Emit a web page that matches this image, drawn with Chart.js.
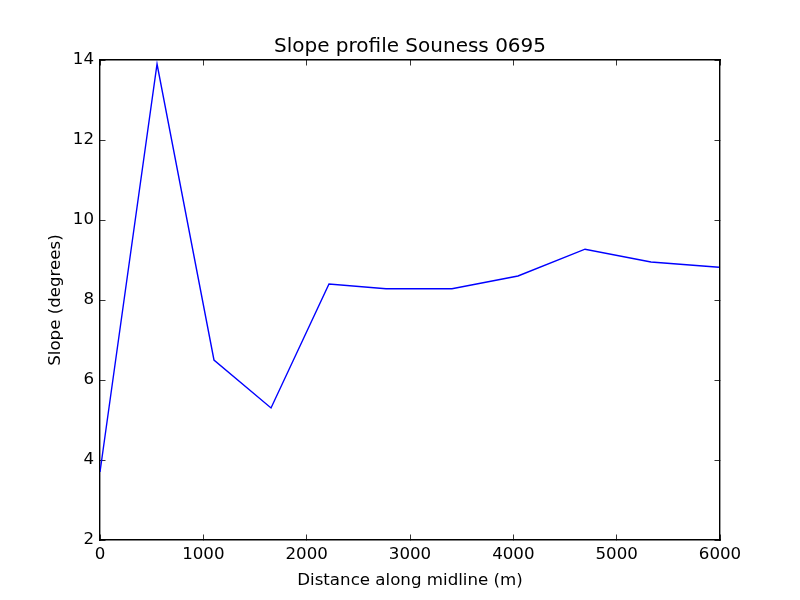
<!DOCTYPE html>
<html>
<head>
<meta charset="utf-8">
<title>Slope profile</title>
<script src="https://cdn.jsdelivr.net/npm/chart.js@4"></script>
<style>
  html, body { margin: 0; padding: 0; background: #fff; }
  canvas { display: block; }
</style>
</head>
<body>
<canvas id="myChart" width="800" height="600"></canvas>
<script>
const distances = [0, 552, 1103, 1655, 2216, 2768, 3406, 4045, 4694, 5332, 5990];
const slopes = [3.7, 13.9, 6.5, 5.3, 8.4, 8.28, 8.28, 8.6, 9.27, 8.95, 8.82];
const xTicks = [0, 1000, 2000, 3000, 4000, 5000, 6000];
const yTicks = [2, 4, 6, 8, 10, 12, 14];

const fontName = "'DejaVu Sans'";

function useTicks(values) {
  return (scale) => {
    scale.ticks = values.map((value) => ({ value }));
  };
}

function axisBase(values, min, max, position) {
  return {
    type: "linear",
    position,
    min,
    max,
    afterBuildTicks: useTicks(values),
    border: { display: true, color: "#000", width: 1.4 },
    grid: {
      drawOnChartArea: false,
      drawTicks: true,
      tickLength: -5.5,
      tickColor: "#000",
      tickWidth: 0.8,
    },
  };
}

function renderChart(ctx) {
  new Chart(ctx, {
    type: "line",
    data: {
      datasets: [
        {
          data: distances.map((x, i) => ({ x, y: slopes[i] })),
          xAxisID: "x",
          yAxisID: "y",
          borderColor: "#0000ff",
          borderWidth: 1.4,
          pointRadius: 0,
          tension: 0,
          fill: false,
        },
      ],
    },
    options: {
      responsive: false,
      animation: false,
      devicePixelRatio: 1,
      layout: { padding: { left: 0, right: 80, top: 0, bottom: 0 } },
      plugins: {
        legend: { display: false },
        tooltip: { enabled: false },
      },
      scales: {
        x: {
          ...axisBase(xTicks, 0, 6000, "bottom"),
          afterFit: (scale) => { scale.height = 60; },
          ticks: {
            color: "#000",
            font: { family: fontName, size: 16.67 },
            padding: 10,
            maxRotation: 0,
            autoSkip: false,
            callback: (value) => String(value),
          },
          title: {
            display: true,
            text: "Distance along midline (m)",
            color: "#000",
            font: { family: fontName, size: 16.67 },
            padding: { top: 0, bottom: 9 },
          },
        },
        y: {
          ...axisBase(yTicks, 2, 14, "left"),
          afterFit: (scale) => { scale.width = 100; },
          ticks: {
            color: "#000",
            font: { family: fontName, size: 16.67 },
            padding: 11.5,
            autoSkip: false,
            callback: (value) => String(value),
          },
          title: {
            display: true,
            text: "Slope (degrees)",
            color: "#000",
            font: { family: fontName, size: 16.67 },
            padding: { top: 46, bottom: 0 },
          },
        },
        xTop: {
          ...axisBase(xTicks, 0, 6000, "top"),
          afterFit: (scale) => { scale.height = 60; },
          ticks: { display: false },
          title: {
            display: true,
            text: "Slope profile Souness 0695",
            color: "#000",
            font: { family: fontName, size: 20 },
            padding: { top: 35, bottom: 0 },
          },
        },
        yRight: {
          ...axisBase(yTicks, 2, 14, "right"),
          afterFit: (scale) => { scale.width = 0; },
          ticks: { display: false },
        },
      },
    },
  });
}

renderChart(document.getElementById("myChart").getContext("2d"));
</script>
</body>
</html>
